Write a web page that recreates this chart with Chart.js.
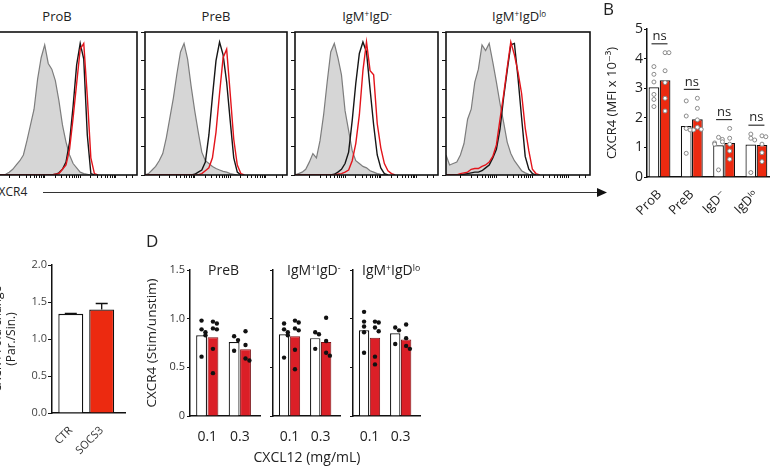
<!DOCTYPE html>
<html>
<head>
<meta charset="utf-8">
<script src="https://cdn.jsdelivr.net/npm/chart.js@4.4.1/dist/chart.umd.min.js"></script>
<style>
html, body { margin: 0; padding: 0; background: #fff; }
body { position: relative; width: 775px; height: 466px; overflow: hidden; font-family: 'Open Sans', 'DejaVu Sans', sans-serif; color: #222; }
canvas { position: absolute; }
.lbl { position: absolute; white-space: nowrap; line-height: 1; }
.mid { transform: translateX(-50%); }
.lbl sup { font-size: 0.62em; vertical-align: 0; position: relative; top: -0.5em; }
.letter { position: absolute; font-size: 17px; line-height: 1; }
svg { position: absolute; left: 0; top: 0; }
</style>
</head>
<body>
<!-- A: histograms -->
<div class="lbl mid" style="left:57px;top:10px;font-size:13px">ProB</div>
<div class="lbl mid" style="left:216px;top:10px;font-size:13px">PreB</div>
<div class="lbl mid" style="left:367px;top:10px;font-size:13px">IgM<sup>+</sup>IgD<sup>-</sup></div>
<div class="lbl mid" style="left:519px;top:10px;font-size:13px">IgM<sup>+</sup>IgD<sup>lo</sup></div>
<canvas id="histProB" width="149" height="150" style="left:-11px;top:31px"></canvas>
<canvas id="histPreB" width="149" height="150" style="left:139px;top:31px"></canvas>
<canvas id="histIgDneg" width="150" height="150" style="left:289px;top:31px"></canvas>
<canvas id="histIgDlo" width="151" height="150" style="left:440px;top:31px"></canvas>
<div class="lbl" style="left:-9px;top:186px;font-size:12px">CXCR4</div>
<svg width="775" height="466">
  <line x1="43" y1="192.5" x2="600" y2="192.5" stroke="#333" stroke-width="1"/>
  <polygon points="597,188 607,192.5 597,197" fill="#111"/>
</svg>

<!-- B -->
<div class="letter" style="left:603px;top:0px">B</div>
<canvas id="mfi" width="175" height="230" style="left:600px;top:0px"></canvas>

<!-- C -->
<canvas id="fold" width="150" height="216" style="left:-9px;top:250px"></canvas>

<!-- D -->
<div class="letter" style="left:146px;top:232px">D</div>
<div class="lbl" style="left:208px;top:263px;font-size:14px">PreB</div>
<div class="lbl" style="left:287px;top:263px;font-size:14px">IgM<sup>+</sup>IgD<sup>-</sup></div>
<div class="lbl" style="left:362px;top:263px;font-size:14px">IgM<sup>+</sup>IgD<sup>lo</sup></div>
<canvas id="stim0" width="125" height="211" style="left:140px;top:255px"></canvas>
<canvas id="stim1" width="82" height="211" style="left:263px;top:255px"></canvas>
<canvas id="stim2" width="82" height="211" style="left:343px;top:255px"></canvas>
<div class="lbl mid" style="left:307px;top:450px;font-size:14px">CXCL12 (mg/mL)</div>

<script>
// A: CXCR4 histograms, % of mode per fluorescence channel
const channels = [0, 2.5, 5, 7.5, 10, 12.5, 15, 17.5, 20, 22.5, 25, 27.5, 30, 32.5, 35, 37.5, 40, 42.5, 45, 47.5, 50, 52.5, 55, 57.5, 60, 62.5, 65, 67.5, 70, 72.5, 75, 77.5, 80, 82.5, 85, 87.5, 90, 92.5, 95, 97.5, 100];
const proB_iso    = [0,0,0,0.5,2,4,7,10,14,24,35,46,67,82,91,78,74,66,52,35,23,14,8,5,2,1,0.5,0];
const proB_ctr    = [0,0,0,0,0, 0,0,0,0,0, 0,0,0,0,0, 0,0, 0.5,1.5,4,9,23,48,77,92,81,28,1,0];
const proB_socs   = [0,0,0,0,0, 0,0,0,0,0, 0,0,0,0,0, 0,0, 0.5,1,4,7,18,40,64,88,92,55,12,1,0];
const preB_iso    = [0,1,3.5,6,10,15,26,40,54,71,86,92,81,62,45,30,16,10,8,6,4.5,3.5,2.5,2,1,0.5,0];
const preB_ctr    = [0,0,0,0,0, 0,0,0,0,0, 0,0,0,0, 0.5,2,3.5,9,28,55,80,93,84,65,38,12,2,0];
const preB_socs   = [0,0,0,0,0, 0,0,0,0,0, 0,0,0,0,0, 0, 1,3,5,12,30,57,82,88,57,25,7,1,0];
const igdNeg_iso  = [0,1,2,4,9,15,12,24,42,65,86,92,82,70,45,31,17,10,8,6,5,3,2,1,0.5,0.3,0];
const igdNeg_ctr  = [0,0,0,0,0, 0,0,0,0,0, 0, 0.5,2,4,8,16,38,64,85,93,86,60,35,14,5,1,0];
const igdNeg_socs = [0,0,0,0,0, 0,0,0,0,0, 0,0, 0.5,1,2,3.5,10,22,42,73,93,73,70,36,19,8,3,1,0];
const igdLo_iso   = [14,7,8,9,14,22,39,46,65,74,91,87,92,79,65,50,37,23,15,10,6.5,3,1.5,0.5,0];
const igdLo_ctr   = [0,0,0,0,0, 0.5,1,1.5,2,2,3,5,7,12,18,32,54,73,91,92,68,40,13,4,1,0];
const igdLo_socs  = [0,0,0,0, 1,1.5,2,4,4.5,4.5,6,7,9,13,21,39,56,75,93,84,72,57,33,17,4,1,0];
const decades = [10, 35, 60, 85];

// B: CXCR4 MFI (x10^-3)
const cellTypesB = ['ProB', 'PreB', 'IgD⁻', 'IgDˡᵒ'];
const mfiCtr  = [3.03, 1.72, 1.07, 1.10];
const mfiSocs = [3.27, 1.95, 1.15, 1.08];
const mfiCtrDots  = [[3.73, 3.47, 3.21, 2.79, 2.62, 2.38], [2.57, 2.06, 1.64, 1.59, 0.80], [1.34, 1.27, 1.19, 1.15, 1.11, 0.24], [1.45, 1.31, 1.25, 0.15]];
const mfiSocsDots = [[4.20, 4.20, 3.59, 3.19, 2.66, 2.23], [2.66, 2.32, 1.93, 1.68, 1.61, 1.59], [1.64, 1.31, 1.11, 0.88, 0.60], [1.39, 1.36, 1.11, 0.82, 0.52]];

// C: fold change
const groupsC = ['CTR', 'SOCS3'];
const foldChange = [1.34, 1.40];
const foldErr = [0.005, 0.08];

// D: stim/unstim, per panel [dose]
const doses = ['0.1', '0.3'];
const stimCtr  = [[0.83, 0.76], [0.84, 0.80], [0.88, 0.85]];
const stimSocs = [[0.81, 0.685], [0.82, 0.76], [0.805, 0.785]];
const stimCtrDots = [
  [[0.98, 0.89, 0.86, 0.83, 0.61], [0.82, 0.78, 0.67]],
  [[0.95, 0.89, 0.86, 0.83, 0.60], [0.86, 0.84, 0.69]],
  [[1.07, 0.97, 0.92, 0.86, 0.65], [0.91, 0.88, 0.74]]
];
const stimSocsDots = [
  [[0.97, 0.95, 0.90, 0.89, 0.69, 0.44], [0.87, 0.73, 0.59, 0.57]],
  [[0.98, 0.96, 0.90, 0.88, 0.68, 0.48], [1.01, 0.77, 0.65, 0.62]],
  [[0.97, 0.96, 0.91, 0.87, 0.61, 0.53], [0.94, 0.80, 0.72, 0.69]]
];

const RED = '#ec2a10';
const RED_D = '#db1f27';
const INK = '#111';

Chart.defaults.font.family = "'Open Sans', 'DejaVu Sans', sans-serif";
Chart.defaults.color = '#222';
Chart.defaults.animation = false;
Chart.defaults.events = [];
Chart.defaults.responsive = false;
Chart.defaults.plugins.legend.display = false;
Chart.defaults.plugins.tooltip.enabled = false;

// box around each histogram
const frame = {
  id: 'frame',
  afterDraw(chart) {
    const {ctx, chartArea: a} = chart;
    ctx.save();
    ctx.strokeStyle = INK;
    ctx.lineWidth = 1.6;
    ctx.strokeRect(a.left, a.top, a.right - a.left, a.bottom - a.top);
    ctx.restore();
  }
};

function logTicks() {
  const t = [];
  decades.forEach(d => {
    t.push(d);
    for (let k = 2; k <= 9; k++) {
      const v = d + 25 * Math.log10(k);
      if (v < 100) t.push(v);
    }
  });
  return t.map(v => ({value: v}));
}

function histogram(id, iso, ctr, socs) {
  const pts = vals => vals.map((y, i) => ({x: channels[i], y: y}));
  new Chart(document.getElementById(id), {
    type: 'line',
    data: {
      datasets: [
        {data: pts(socs), borderColor: '#e3141b', borderWidth: 1.4, order: 1},
        {data: pts(ctr), borderColor: '#161616', borderWidth: 1.4, order: 2},
        {data: pts(iso), borderColor: '#7d7d7d', backgroundColor: '#d6d6d6', fill: 'origin', borderWidth: 1.2, order: 3}
      ]
    },
    options: {
      elements: {point: {radius: 0}, line: {tension: 0}},
      layout: {padding: {top: 1, right: 1, left: 0, bottom: 0}},
      scales: {
        x: {
          type: 'linear', min: 0, max: 100,
          afterBuildTicks: s => { s.ticks = logTicks(); },
          ticks: {display: false},
          grid: {drawOnChartArea: false, tickLength: 3, color: INK},
          border: {display: false},
          afterFit: s => { s.height = 6; }
        },
        y: {
          min: 0, max: 100,
          afterBuildTicks: s => { s.ticks = [0, 20, 40, 60, 80, 100].map(v => ({value: v})); },
          ticks: {display: false},
          grid: {drawOnChartArea: false, tickLength: 4, color: INK},
          border: {display: false},
          afterFit: s => { s.width = 6; }
        }
      }
    },
    plugins: [frame]
  });
}

histogram('histProB', proB_iso, proB_ctr, proB_socs);
histogram('histPreB', preB_iso, preB_ctr, preB_socs);
histogram('histIgDneg', igdNeg_iso, igdNeg_ctr, igdNeg_socs);
histogram('histIgDlo', igdLo_iso, igdLo_ctr, igdLo_socs);

// dots in a column over each bar, nudged sideways when they would overlap
function dotPoints(groups, shift, near) {
  const pts = [];
  groups.forEach((vals, i) => {
    const placed = [];
    vals.forEach(v => {
      const n = placed.filter(p => Math.abs(p - v) < near).length;
      placed.push(v);
      pts.push({x: i + shift + [0, 0.12, -0.12][n % 3], y: v});
    });
  });
  return pts;
}

// B
const B_CAT = 0.69;
const nsLevels = mfiCtrDots.map((d, i) => Math.max(...d, ...mfiSocsDots[i]) + 0.3);
const nsMarks = {
  id: 'nsMarks',
  afterDatasetsDraw(chart) {
    const {ctx, scales: {x, y}} = chart;
    ctx.save();
    ctx.strokeStyle = '#333';
    ctx.fillStyle = '#222';
    ctx.lineWidth = 1.2;
    ctx.font = "13px 'Open Sans', sans-serif";
    ctx.textAlign = 'center';
    ctx.textBaseline = 'bottom';
    nsLevels.forEach((lv, i) => {
      const px = x.getPixelForValue(i), py = y.getPixelForValue(lv);
      ctx.beginPath();
      ctx.moveTo(px - 8, py);
      ctx.lineTo(px + 8, py);
      ctx.stroke();
      ctx.fillText('ns', px, py - 1);
    });
    ctx.restore();
  }
};

const openDot = {type: 'scatter', pointRadius: 2, pointBackgroundColor: '#fff', pointBorderColor: '#8a8a8a', pointBorderWidth: 1, order: 0};
new Chart(document.getElementById('mfi'), {
  type: 'bar',
  data: {
    datasets: [
      Object.assign({data: dotPoints(mfiCtrDots, -B_CAT / 4, 0.13)}, openDot),
      Object.assign({data: dotPoints(mfiSocsDots, B_CAT / 4, 0.13)}, openDot),
      {data: mfiCtr.map((y, i) => ({x: i, y: y})), backgroundColor: '#fff', borderColor: INK, borderWidth: 1.2, categoryPercentage: B_CAT, barPercentage: 0.96, order: 1},
      {data: mfiSocs.map((y, i) => ({x: i, y: y})), backgroundColor: RED, borderColor: INK, borderWidth: 1.2, categoryPercentage: B_CAT, barPercentage: 0.96, order: 1}
    ]
  },
  options: {
    layout: {padding: {top: 29, right: 6, left: 0, bottom: 0}},
    scales: {
      x: {
        type: 'linear', min: -0.387, max: 3.39, offset: false,
        afterBuildTicks: s => { s.ticks = cellTypesB.map((c, i) => ({value: i})); },
        ticks: {callback: v => cellTypesB[v], font: {size: 13}, minRotation: 45, maxRotation: 45, padding: 2, color: '#222'},
        grid: {display: false},
        border: {display: true, color: INK, width: 1.5},
        afterFit: s => { s.height = 53; }
      },
      y: {
        min: 0, max: 5,
        ticks: {stepSize: 1, font: {size: 14}, padding: 1, color: '#222'},
        grid: {drawOnChartArea: false, tickLength: 3, color: INK},
        border: {display: true, color: INK, width: 1.5},
        title: {display: true, text: 'CXCR4 (MFI x 10⁻³)', font: {size: 13}, padding: {top: 4, bottom: 0}, color: '#222'},
        afterFit: s => { s.width = 47; }
      }
    }
  },
  plugins: [nsMarks]
});

// C
const errorBars = {
  id: 'errorBars',
  afterDatasetsDraw(chart) {
    const {ctx} = chart, y = chart.scales.y;
    ctx.save();
    ctx.strokeStyle = INK;
    ctx.lineWidth = 1.3;
    chart.getDatasetMeta(0).data.forEach((bar, i) => {
      const top = y.getPixelForValue(foldChange[i] + foldErr[i]);
      ctx.beginPath();
      ctx.moveTo(bar.x, bar.y);
      ctx.lineTo(bar.x, top);
      ctx.moveTo(bar.x - 6, top);
      ctx.lineTo(bar.x + 6, top);
      ctx.stroke();
    });
    ctx.restore();
  }
};

new Chart(document.getElementById('fold'), {
  type: 'bar',
  data: {
    datasets: [{
      data: foldChange.map((y, i) => ({x: i, y: y})),
      backgroundColor: ['#fff', RED], borderColor: INK, borderWidth: 1.3,
      categoryPercentage: 0.85, barPercentage: 0.95
    }]
  },
  options: {
    layout: {padding: {top: 15, right: 16, left: 0, bottom: 0}},
    scales: {
      x: {
        type: 'linear', min: -0.608, max: 1.754, offset: false,
        afterBuildTicks: s => { s.ticks = groupsC.map((g, i) => ({value: i})); },
        ticks: {callback: v => groupsC[v], font: {size: 11}, minRotation: 45, maxRotation: 45, padding: 3, color: '#333'},
        grid: {display: false},
        border: {display: true, color: INK, width: 1.5},
        afterFit: s => { s.height = 53; }
      },
      y: {
        min: 0, max: 2,
        ticks: {stepSize: 0.5, callback: v => v.toFixed(1), font: {size: 11}, padding: 1, color: '#444'},
        grid: {drawOnChartArea: false, tickLength: 4, color: INK},
        border: {display: true, color: INK, width: 1.5},
        title: {display: true, text: ['CXCR4 Fold change', '(Par./Sin.)'], font: {size: 12, lineHeight: 1.15}, padding: {top: 0, bottom: 0}, color: '#222'},
        afterFit: s => { s.width = 61; }
      }
    }
  },
  plugins: [errorBars]
});

// D
const D_CAT = 0.70;
const blackDot = {type: 'scatter', pointRadius: 2.2, pointBackgroundColor: INK, pointBorderWidth: 0, order: 0};
function stimPanel(id, p, first) {
  new Chart(document.getElementById(id), {
    type: 'bar',
    data: {
      datasets: [
        Object.assign({data: dotPoints(stimCtrDots[p], -D_CAT / 4, 0.045)}, blackDot),
        Object.assign({data: dotPoints(stimSocsDots[p], D_CAT / 4, 0.045)}, blackDot),
        {data: stimCtr[p].map((y, i) => ({x: i, y: y})), backgroundColor: '#fff', borderColor: INK, borderWidth: 1.2, categoryPercentage: D_CAT, barPercentage: 0.95, order: 1},
        {data: stimSocs[p].map((y, i) => ({x: i, y: y})), backgroundColor: RED_D, borderColor: '#7a1014', borderWidth: 1, categoryPercentage: D_CAT, barPercentage: 0.95, order: 1}
      ]
    },
    options: {
      layout: {padding: {top: 15, right: 5, left: 0, bottom: 0}},
      scales: {
        x: {
          type: 'linear', min: -0.53, max: 1.62, offset: false,
          afterBuildTicks: s => { s.ticks = doses.map((d, i) => ({value: i})); },
          ticks: {callback: v => doses[v], font: {size: 14}, padding: 5, maxRotation: 0, color: '#222'},
          grid: {display: false},
          border: {display: true, color: INK, width: 1.5},
          afterFit: s => { s.height = 50; }
        },
        y: {
          min: 0, max: 1.5,
          afterBuildTicks: s => { s.ticks = [0, 0.5, 1, 1.5].map(v => ({value: v})); },
          ticks: {display: first, callback: v => v === 0 ? '0' : v.toFixed(1), font: {size: 11}, padding: 2, color: '#333'},
          grid: {drawOnChartArea: false, tickLength: 3, color: INK},
          border: {display: true, color: INK, width: 1.5},
          title: {display: first, text: 'CXCR4 (Stim/unstim)', font: {size: 13.5}, padding: {top: 4, bottom: 0}, color: '#222'},
          afterFit: s => { s.width = first ? 50 : 10; }
        }
      }
    }
  });
}
stimPanel('stim0', 0, true);
stimPanel('stim1', 1, false);
stimPanel('stim2', 2, false);
</script>
</body>
</html>
